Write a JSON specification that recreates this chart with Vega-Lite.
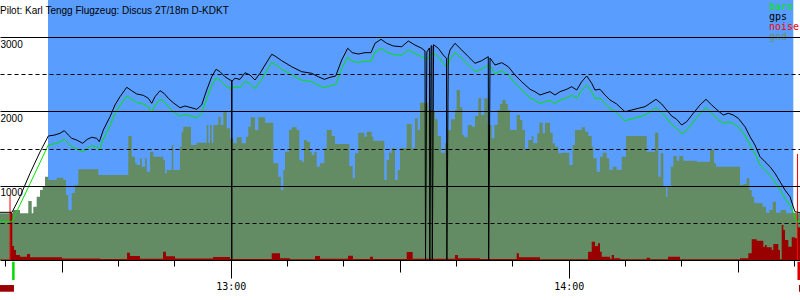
{
"$schema":"https://vega.github.io/schema/vega-lite/v6.json",
"width":800,"height":260,
"autosize":{"type":"none"},
"padding":{"left":0,"top":0,"right":0,"bottom":40},
"background":"white",
"config":{"view":{"stroke":null}},
"title":{"text":"Pilot: Karl Tengg Flugzeug: Discus 2T/18m D-KDKT","anchor":"start","frame":"group","font":"Liberation Sans","fontSize":10,"fontWeight":"normal","color":"black","offset":-10,"baseline":"alphabetic","dy":14},
"datasets":{
"gnd":[{"m":19.05,"alt":629},{"m":21.36,"alt":673},{"m":22.60,"alt":629},{"m":24.07,"alt":794},{"m":24.68,"alt":629},{"m":24.96,"alt":717},{"m":25.56,"alt":852},{"m":26.15,"alt":942},{"m":26.63,"alt":987},{"m":27.04,"alt":1121},{"m":27.62,"alt":1077},{"m":29.11,"alt":1108},{"m":30.29,"alt":1077},{"m":30.77,"alt":875},{"m":31.17,"alt":673},{"m":31.78,"alt":902},{"m":32.36,"alt":1010},{"m":32.95,"alt":1221},{"m":36.50,"alt":1144},{"m":41.82,"alt":1669},{"m":42.43,"alt":1391},{"m":43.01,"alt":1302},{"m":43.31,"alt":1279},{"m":43.90,"alt":1369},{"m":44.20,"alt":1256},{"m":44.79,"alt":1369},{"m":45.09,"alt":1189},{"m":45.68,"alt":1458},{"m":46.26,"alt":1391},{"m":48.04,"alt":1346},{"m":48.34,"alt":1167},{"m":48.64,"alt":1211},{"m":49.53,"alt":1548},{"m":49.81,"alt":1211},{"m":51.00,"alt":1525},{"m":51.30,"alt":1727},{"m":51.59,"alt":1794},{"m":52.95,"alt":1548},{"m":53.96,"alt":1579},{"m":55.74,"alt":1817},{"m":56.02,"alt":1579},{"m":56.33,"alt":1817},{"m":56.63,"alt":1579},{"m":56.91,"alt":1817},{"m":57.80,"alt":1929},{"m":58.22,"alt":1817},{"m":58.69,"alt":1996},{"m":59.29,"alt":1773},{"m":59.88,"alt":1638},{"m":60.46,"alt":1571},{"m":61.06,"alt":1652},{"m":61.95,"alt":1571},{"m":62.72,"alt":1660},{"m":63.12,"alt":1794},{"m":63.55,"alt":1921},{"m":64.31,"alt":1750},{"m":64.90,"alt":1921},{"m":66.09,"alt":1848},{"m":67.56,"alt":1302},{"m":68.45,"alt":1121},{"m":68.93,"alt":942},{"m":69.34,"alt":1211},{"m":69.64,"alt":1458},{"m":70.35,"alt":1750},{"m":70.83,"alt":1786},{"m":71.71,"alt":1750},{"m":72.18,"alt":1346},{"m":72.60,"alt":1323},{"m":73.01,"alt":1615},{"m":73.49,"alt":1593},{"m":74.08,"alt":1458},{"m":74.38,"alt":1413},{"m":74.84,"alt":1458},{"m":75.26,"alt":1256},{"m":75.85,"alt":1302},{"m":76.61,"alt":1504},{"m":77.04,"alt":1750},{"m":77.93,"alt":1669},{"m":78.51,"alt":1562},{"m":81.05,"alt":1265},{"m":81.65,"alt":1100},{"m":82.06,"alt":1436},{"m":82.65,"alt":1714},{"m":83.71,"alt":1660},{"m":84.14,"alt":1727},{"m":85.03,"alt":1660},{"m":85.31,"alt":1606},{"m":87.26,"alt":1077},{"m":87.69,"alt":1346},{"m":88.10,"alt":1444},{"m":88.58,"alt":1504},{"m":89.16,"alt":1077},{"m":89.64,"alt":1211},{"m":90.05,"alt":1504},{"m":91.24,"alt":1831},{"m":92.13,"alt":1504},{"m":92.71,"alt":1907},{"m":93.19,"alt":1750},{"m":93.60,"alt":2117},{"m":95.07,"alt":2019},{"m":95.96,"alt":1996},{"m":96.26,"alt":1894},{"m":96.74,"alt":1669},{"m":97.33,"alt":1444},{"m":98.04,"alt":1571},{"m":98.52,"alt":1750},{"m":99.10,"alt":1894},{"m":99.81,"alt":2019},{"m":100.11,"alt":2288},{"m":100.70,"alt":2055},{"m":101.11,"alt":1683},{"m":101.46,"alt":1652},{"m":102.07,"alt":1817},{"m":102.78,"alt":1794},{"m":103.36,"alt":1938},{"m":103.95,"alt":2177},{"m":104.43,"alt":1952},{"m":105.01,"alt":2177},{"m":105.62,"alt":1817},{"m":106.33,"alt":1638},{"m":106.79,"alt":1817},{"m":107.39,"alt":2019},{"m":107.80,"alt":2100},{"m":108.21,"alt":2154},{"m":108.81,"alt":2100},{"m":109.17,"alt":2019},{"m":109.58,"alt":1750},{"m":110.76,"alt":1952},{"m":111.35,"alt":1884},{"m":111.76,"alt":1750},{"m":112.24,"alt":1481},{"m":112.82,"alt":1615},{"m":113.43,"alt":1669},{"m":113.71,"alt":1571},{"m":114.42,"alt":1705},{"m":114.78,"alt":1848},{"m":115.38,"alt":1705},{"m":115.79,"alt":1848},{"m":116.68,"alt":1714},{"m":117.15,"alt":1571},{"m":117.56,"alt":1525},{"m":118.15,"alt":1436},{"m":118.75,"alt":1444},{"m":120.10,"alt":1279},{"m":120.70,"alt":1548},{"m":121.11,"alt":1750},{"m":122.30,"alt":1786},{"m":122.89,"alt":1727},{"m":123.47,"alt":1669},{"m":124.08,"alt":1525},{"m":124.36,"alt":1369},{"m":124.96,"alt":1189},{"m":125.55,"alt":1391},{"m":126.03,"alt":1444},{"m":126.74,"alt":1369},{"m":127.20,"alt":1211},{"m":127.80,"alt":1256},{"m":128.51,"alt":1211},{"m":129.40,"alt":1391},{"m":130.17,"alt":1669},{"m":133.84,"alt":1458},{"m":135.31,"alt":1714},{"m":135.90,"alt":1121},{"m":136.32,"alt":1436},{"m":136.79,"alt":996},{"m":137.27,"alt":852},{"m":137.50,"alt":996},{"m":138.10,"alt":1256},{"m":138.56,"alt":1400},{"m":139.16,"alt":1337},{"m":139.63,"alt":1400},{"m":140.34,"alt":1337},{"m":142.71,"alt":1323},{"m":145.08,"alt":1481},{"m":145.79,"alt":1302},{"m":146.14,"alt":1256},{"m":150.40,"alt":1010},{"m":150.99,"alt":1023},{"m":151.59,"alt":1100},{"m":152.05,"alt":942},{"m":152.48,"alt":852},{"m":152.89,"alt":771},{"m":153.36,"alt":763},{"m":154.43,"alt":717},{"m":155.02,"alt":637},{"m":155.60,"alt":673},{"m":156.20,"alt":785},{"m":156.79,"alt":637},{"m":157.62,"alt":673},{"m":158.57,"alt":629},{"m":159.58,"alt":637},{"m":160.46,"alt":629},{"m":161.05,"alt":629}],
"noise":[{"m":19.05,"alt":8},{"m":20.83,"alt":637},{"m":21.23,"alt":188},{"m":21.54,"alt":135},{"m":21.89,"alt":67},{"m":22.60,"alt":44},{"m":23.84,"alt":81},{"m":24.38,"alt":36},{"m":30.06,"alt":20},{"m":36.80,"alt":15},{"m":41.59,"alt":98},{"m":42.13,"alt":54},{"m":43.90,"alt":18},{"m":47.98,"alt":112},{"m":48.52,"alt":50},{"m":50.11,"alt":20},{"m":56.86,"alt":40},{"m":59.88,"alt":12},{"m":67.28,"alt":90},{"m":68.75,"alt":22},{"m":70.53,"alt":10},{"m":74.96,"alt":54},{"m":75.85,"alt":18},{"m":80.82,"alt":58},{"m":81.71,"alt":15},{"m":84.73,"alt":44},{"m":85.26,"alt":13},{"m":91.24,"alt":108},{"m":92.30,"alt":18},{"m":99.81,"alt":67},{"m":100.35,"alt":22},{"m":104.25,"alt":14},{"m":110.76,"alt":90},{"m":111.17,"alt":36},{"m":114.90,"alt":10},{"m":123.42,"alt":112},{"m":124.08,"alt":246},{"m":124.66,"alt":188},{"m":125.20,"alt":224},{"m":125.55,"alt":112},{"m":125.85,"alt":44},{"m":127.33,"alt":18},{"m":127.63,"alt":67},{"m":128.04,"alt":22},{"m":129.10,"alt":10},{"m":133.84,"alt":31},{"m":134.43,"alt":10},{"m":137.62,"alt":44},{"m":139.75,"alt":10},{"m":150.40,"alt":22},{"m":151.87,"alt":90},{"m":152.48,"alt":278},{"m":153.36,"alt":260},{"m":154.54,"alt":179},{"m":154.84,"alt":202},{"m":155.14,"alt":170},{"m":156.03,"alt":135},{"m":156.31,"alt":215},{"m":157.20,"alt":135},{"m":157.50,"alt":10},{"m":157.80,"alt":471},{"m":158.09,"alt":404},{"m":158.39,"alt":269},{"m":158.97,"alt":179},{"m":159.58,"alt":306},{"m":160.16,"alt":292},{"m":160.57,"alt":440},{"m":161.05,"alt":440}],
"track":[{"s":"baro","m":19.05,"alt":516},{"s":"baro","m":21.18,"alt":516},{"s":"baro","m":22.60,"alt":743},{"s":"baro","m":24.38,"alt":1028},{"s":"baro","m":26.15,"alt":1312},{"s":"baro","m":27.62,"alt":1548},{"s":"baro","m":28.81,"alt":1565},{"s":"baro","m":29.70,"alt":1590},{"s":"baro","m":30.46,"alt":1625},{"s":"baro","m":31.17,"alt":1570},{"s":"baro","m":31.78,"alt":1522},{"s":"baro","m":32.66,"alt":1500},{"s":"baro","m":33.73,"alt":1455},{"s":"baro","m":34.55,"alt":1505},{"s":"baro","m":35.33,"alt":1538},{"s":"baro","m":36.21,"alt":1525},{"s":"baro","m":36.68,"alt":1478},{"s":"baro","m":37.39,"alt":1630},{"s":"baro","m":38.58,"alt":1810},{"s":"baro","m":39.46,"alt":1970},{"s":"baro","m":40.35,"alt":2080},{"s":"baro","m":41.54,"alt":2205},{"s":"baro","m":42.43,"alt":2165},{"s":"baro","m":43.31,"alt":2120},{"s":"baro","m":44.49,"alt":2100},{"s":"baro","m":45.37,"alt":2063},{"s":"baro","m":45.98,"alt":1995},{"s":"baro","m":46.56,"alt":2080},{"s":"baro","m":47.45,"alt":2165},{"s":"baro","m":48.16,"alt":2130},{"s":"baro","m":48.92,"alt":2062},{"s":"baro","m":49.81,"alt":2003},{"s":"baro","m":51.00,"alt":1935},{"s":"baro","m":51.89,"alt":1958},{"s":"baro","m":52.78,"alt":1940},{"s":"baro","m":53.96,"alt":1915},{"s":"baro","m":54.85,"alt":1972},{"s":"baro","m":55.74,"alt":2170},{"s":"baro","m":56.63,"alt":2350},{"s":"baro","m":57.39,"alt":2452},{"s":"baro","m":58.10,"alt":2420},{"s":"baro","m":58.99,"alt":2352},{"s":"baro","m":59.88,"alt":2308},{"s":"baro","m":60.76,"alt":2330},{"s":"baro","m":61.65,"alt":2318},{"s":"baro","m":62.54,"alt":2405},{"s":"baro","m":63.43,"alt":2375},{"s":"baro","m":64.31,"alt":2308},{"s":"baro","m":65.20,"alt":2398},{"s":"baro","m":66.09,"alt":2510},{"s":"baro","m":67.28,"alt":2660},{"s":"baro","m":67.86,"alt":2635},{"s":"baro","m":69.05,"alt":2570},{"s":"baro","m":70.83,"alt":2490},{"s":"baro","m":72.60,"alt":2420},{"s":"baro","m":74.38,"alt":2400},{"s":"baro","m":75.55,"alt":2352},{"s":"baro","m":76.61,"alt":2318},{"s":"baro","m":77.63,"alt":2345},{"s":"baro","m":78.64,"alt":2362},{"s":"baro","m":79.70,"alt":2578},{"s":"baro","m":80.77,"alt":2730},{"s":"baro","m":81.58,"alt":2676},{"s":"baro","m":82.65,"alt":2660},{"s":"baro","m":83.84,"alt":2676},{"s":"baro","m":84.90,"alt":2676},{"s":"baro","m":85.61,"alt":2800},{"s":"baro","m":86.68,"alt":2852},{"s":"baro","m":87.69,"alt":2800},{"s":"baro","m":88.86,"alt":2766},{"s":"baro","m":90.35,"alt":2756},{"s":"baro","m":91.53,"alt":2832},{"s":"baro","m":92.71,"alt":2780},{"s":"baro","m":93.90,"alt":2736},{"s":"baro","m":94.49,"alt":2715},{"s":"baro","m":94.81,"alt":2700},{"s":"baro","m":95.27,"alt":2740},{"s":"baro","m":95.57,"alt":2765},{"s":"baro","m":95.71,"alt":2770},{"s":"baro","m":96.01,"alt":2782},{"s":"baro","m":96.85,"alt":2735},{"s":"baro","m":97.74,"alt":2650},{"s":"baro","m":98.30,"alt":2605},{"s":"baro","m":98.61,"alt":2620},{"s":"baro","m":98.93,"alt":2700},{"s":"baro","m":99.81,"alt":2795},{"s":"baro","m":101.00,"alt":2715},{"s":"baro","m":102.18,"alt":2625},{"s":"baro","m":103.36,"alt":2535},{"s":"baro","m":104.55,"alt":2570},{"s":"baro","m":105.72,"alt":2625},{"s":"baro","m":106.03,"alt":2610},{"s":"baro","m":106.91,"alt":2513},{"s":"baro","m":108.10,"alt":2545},{"s":"baro","m":109.28,"alt":2490},{"s":"baro","m":110.46,"alt":2380},{"s":"baro","m":111.65,"alt":2290},{"s":"baro","m":113.13,"alt":2180},{"s":"baro","m":114.01,"alt":2150},{"s":"baro","m":114.90,"alt":2105},{"s":"baro","m":115.79,"alt":2130},{"s":"baro","m":116.68,"alt":2150},{"s":"baro","m":117.56,"alt":2108},{"s":"baro","m":118.45,"alt":2150},{"s":"baro","m":119.64,"alt":2185},{"s":"baro","m":120.53,"alt":2218},{"s":"baro","m":121.42,"alt":2175},{"s":"baro","m":122.30,"alt":2285},{"s":"baro","m":123.19,"alt":2356},{"s":"baro","m":124.08,"alt":2265},{"s":"baro","m":124.66,"alt":2175},{"s":"baro","m":125.55,"alt":2180},{"s":"baro","m":126.44,"alt":2105},{"s":"baro","m":127.33,"alt":2040},{"s":"baro","m":128.51,"alt":1985},{"s":"baro","m":129.99,"alt":1875},{"s":"baro","m":131.17,"alt":1900},{"s":"baro","m":132.35,"alt":1925},{"s":"baro","m":133.54,"alt":1950},{"s":"baro","m":134.43,"alt":1995},{"s":"baro","m":135.49,"alt":2050},{"s":"baro","m":136.50,"alt":1985},{"s":"baro","m":137.39,"alt":1905},{"s":"baro","m":138.28,"alt":1825},{"s":"baro","m":139.16,"alt":1775},{"s":"baro","m":140.05,"alt":1700},{"s":"baro","m":140.94,"alt":1745},{"s":"baro","m":142.11,"alt":1860},{"s":"baro","m":143.30,"alt":1970},{"s":"baro","m":144.36,"alt":2050},{"s":"baro","m":145.37,"alt":1975},{"s":"baro","m":146.55,"alt":1890},{"s":"baro","m":147.44,"alt":1840},{"s":"baro","m":148.32,"alt":1860},{"s":"baro","m":149.21,"alt":1840},{"s":"baro","m":150.10,"alt":1790},{"s":"baro","m":151.29,"alt":1680},{"s":"baro","m":152.18,"alt":1545},{"s":"baro","m":153.06,"alt":1435},{"s":"baro","m":153.95,"alt":1280},{"s":"baro","m":154.84,"alt":1210},{"s":"baro","m":155.73,"alt":1140},{"s":"baro","m":156.61,"alt":1055},{"s":"baro","m":157.50,"alt":940},{"s":"baro","m":158.39,"alt":830},{"s":"baro","m":159.28,"alt":735},{"s":"baro","m":159.86,"alt":640},{"s":"baro","m":160.16,"alt":561},{"s":"baro","m":160.46,"alt":516},{"s":"baro","m":161.05,"alt":516},
{"s":"gps","m":19.05,"alt":642},{"s":"gps","m":21.18,"alt":642},{"s":"gps","m":22.60,"alt":852},{"s":"gps","m":24.38,"alt":1167},{"s":"gps","m":26.15,"alt":1454},{"s":"gps","m":27.62,"alt":1669},{"s":"gps","m":28.81,"alt":1683},{"s":"gps","m":29.70,"alt":1706},{"s":"gps","m":30.46,"alt":1741},{"s":"gps","m":31.17,"alt":1683},{"s":"gps","m":31.78,"alt":1638},{"s":"gps","m":32.66,"alt":1615},{"s":"gps","m":33.73,"alt":1571},{"s":"gps","m":34.55,"alt":1625},{"s":"gps","m":35.33,"alt":1652},{"s":"gps","m":36.21,"alt":1638},{"s":"gps","m":36.68,"alt":1592},{"s":"gps","m":37.39,"alt":1750},{"s":"gps","m":38.58,"alt":1929},{"s":"gps","m":39.46,"alt":2087},{"s":"gps","m":40.35,"alt":2198},{"s":"gps","m":41.54,"alt":2325},{"s":"gps","m":42.43,"alt":2279},{"s":"gps","m":43.31,"alt":2235},{"s":"gps","m":44.49,"alt":2217},{"s":"gps","m":45.37,"alt":2177},{"s":"gps","m":45.98,"alt":2109},{"s":"gps","m":46.56,"alt":2198},{"s":"gps","m":47.45,"alt":2279},{"s":"gps","m":48.16,"alt":2244},{"s":"gps","m":48.92,"alt":2177},{"s":"gps","m":49.81,"alt":2117},{"s":"gps","m":51.00,"alt":2050},{"s":"gps","m":51.89,"alt":2073},{"s":"gps","m":52.78,"alt":2055},{"s":"gps","m":53.96,"alt":2029},{"s":"gps","m":54.85,"alt":2087},{"s":"gps","m":55.74,"alt":2288},{"s":"gps","m":56.63,"alt":2467},{"s":"gps","m":57.39,"alt":2567},{"s":"gps","m":58.10,"alt":2535},{"s":"gps","m":58.99,"alt":2467},{"s":"gps","m":59.88,"alt":2423},{"s":"gps","m":60.16,"alt":2416},{"s":"gps","m":60.19,"alt":0},{"s":"gps","m":60.23,"alt":2410},{"s":"gps","m":60.76,"alt":2446},{"s":"gps","m":61.65,"alt":2432},{"s":"gps","m":62.54,"alt":2521},{"s":"gps","m":63.43,"alt":2490},{"s":"gps","m":64.31,"alt":2423},{"s":"gps","m":65.20,"alt":2513},{"s":"gps","m":66.09,"alt":2625},{"s":"gps","m":67.28,"alt":2769},{"s":"gps","m":67.86,"alt":2746},{"s":"gps","m":69.05,"alt":2683},{"s":"gps","m":70.83,"alt":2602},{"s":"gps","m":72.60,"alt":2535},{"s":"gps","m":74.38,"alt":2513},{"s":"gps","m":75.55,"alt":2467},{"s":"gps","m":76.61,"alt":2432},{"s":"gps","m":77.63,"alt":2459},{"s":"gps","m":78.64,"alt":2477},{"s":"gps","m":79.70,"alt":2692},{"s":"gps","m":80.77,"alt":2850},{"s":"gps","m":81.58,"alt":2791},{"s":"gps","m":82.65,"alt":2773},{"s":"gps","m":83.84,"alt":2791},{"s":"gps","m":84.90,"alt":2791},{"s":"gps","m":85.61,"alt":2917},{"s":"gps","m":86.68,"alt":2971},{"s":"gps","m":87.69,"alt":2917},{"s":"gps","m":88.86,"alt":2881},{"s":"gps","m":90.35,"alt":2871},{"s":"gps","m":91.53,"alt":2948},{"s":"gps","m":92.71,"alt":2894},{"s":"gps","m":93.90,"alt":2850},{"s":"gps","m":94.49,"alt":2813},{"s":"gps","m":94.58,"alt":0},{"s":"gps","m":94.70,"alt":1430},{"s":"gps","m":94.81,"alt":2800},{"s":"gps","m":95.27,"alt":2854},{"s":"gps","m":95.34,"alt":0},{"s":"gps","m":95.46,"alt":1460},{"s":"gps","m":95.57,"alt":2881},{"s":"gps","m":95.71,"alt":2887},{"s":"gps","m":95.78,"alt":0},{"s":"gps","m":95.91,"alt":1444},{"s":"gps","m":96.01,"alt":2898},{"s":"gps","m":96.85,"alt":2850},{"s":"gps","m":97.74,"alt":2759},{"s":"gps","m":98.30,"alt":2715},{"s":"gps","m":98.37,"alt":0},{"s":"gps","m":98.50,"alt":1356},{"s":"gps","m":98.61,"alt":2733},{"s":"gps","m":98.93,"alt":2827},{"s":"gps","m":99.81,"alt":2917},{"s":"gps","m":101.00,"alt":2827},{"s":"gps","m":102.18,"alt":2737},{"s":"gps","m":103.36,"alt":2648},{"s":"gps","m":104.55,"alt":2683},{"s":"gps","m":105.72,"alt":2737},{"s":"gps","m":105.79,"alt":0},{"s":"gps","m":105.92,"alt":1373},{"s":"gps","m":106.03,"alt":2719},{"s":"gps","m":106.91,"alt":2625},{"s":"gps","m":108.10,"alt":2656},{"s":"gps","m":109.28,"alt":2602},{"s":"gps","m":110.46,"alt":2490},{"s":"gps","m":111.65,"alt":2400},{"s":"gps","m":113.13,"alt":2298},{"s":"gps","m":114.01,"alt":2266},{"s":"gps","m":114.90,"alt":2221},{"s":"gps","m":115.79,"alt":2244},{"s":"gps","m":116.68,"alt":2266},{"s":"gps","m":117.56,"alt":2221},{"s":"gps","m":118.45,"alt":2266},{"s":"gps","m":119.64,"alt":2298},{"s":"gps","m":120.53,"alt":2333},{"s":"gps","m":121.42,"alt":2288},{"s":"gps","m":122.30,"alt":2400},{"s":"gps","m":123.19,"alt":2477},{"s":"gps","m":124.08,"alt":2379},{"s":"gps","m":124.66,"alt":2288},{"s":"gps","m":125.55,"alt":2298},{"s":"gps","m":126.44,"alt":2221},{"s":"gps","m":127.33,"alt":2154},{"s":"gps","m":128.51,"alt":2100},{"s":"gps","m":129.99,"alt":1996},{"s":"gps","m":131.17,"alt":2019},{"s":"gps","m":132.35,"alt":2042},{"s":"gps","m":133.54,"alt":2064},{"s":"gps","m":134.43,"alt":2109},{"s":"gps","m":135.49,"alt":2163},{"s":"gps","m":136.50,"alt":2100},{"s":"gps","m":137.39,"alt":2019},{"s":"gps","m":138.28,"alt":1938},{"s":"gps","m":139.16,"alt":1894},{"s":"gps","m":140.05,"alt":1817},{"s":"gps","m":140.94,"alt":1862},{"s":"gps","m":142.11,"alt":1975},{"s":"gps","m":143.30,"alt":2087},{"s":"gps","m":144.36,"alt":2163},{"s":"gps","m":145.37,"alt":2087},{"s":"gps","m":146.55,"alt":2006},{"s":"gps","m":147.44,"alt":1952},{"s":"gps","m":148.32,"alt":1975},{"s":"gps","m":149.21,"alt":1952},{"s":"gps","m":150.10,"alt":1907},{"s":"gps","m":151.29,"alt":1794},{"s":"gps","m":152.18,"alt":1660},{"s":"gps","m":153.06,"alt":1548},{"s":"gps","m":153.95,"alt":1391},{"s":"gps","m":154.84,"alt":1323},{"s":"gps","m":155.73,"alt":1256},{"s":"gps","m":156.61,"alt":1167},{"s":"gps","m":157.50,"alt":1054},{"s":"gps","m":158.39,"alt":942},{"s":"gps","m":159.28,"alt":852},{"s":"gps","m":159.86,"alt":717},{"s":"gps","m":160.16,"alt":650},{"s":"gps","m":161.05,"alt":637}]
},
"layer":[
{"data":{"values":[{"m1":27.57,"m2":159.86}]},
 "mark":{"type":"rect","fill":"#599eff"},
 "encoding":{
  "x":{"field":"m1","type":"quantitative","scale":{"domain":[19.05,161.05],"nice":false,"zero":false},
   "axis":{"title":null,"values":[20,25,30,35,40,45,50,55,60,65,70,75,80,85,90,95,100,105,110,115,120,125,130,135,140,145,150,155,160],
    "tickSize":{"condition":[{"test":"datum.value % 60 === 0","value":18},{"test":"datum.value % 30 === 0","value":12}],"value":6},
    "tickColor":"black","tickWidth":1,"domainColor":"black","domainWidth":1,"grid":false,
    "labelExpr":"datum.value % 60 === 0 ? (12 + datum.value/60) + ':00' : ''",
    "labelFont":"DejaVu Sans Mono","labelFontSize":10,"labelColor":"black","labelPadding":3,"labelFlush":false,"labelOverlap":false}},
  "x2":{"field":"m2"},
  "y":{"datum":0,"type":"quantitative","scale":{"domain":[0,3500],"nice":false,"zero":false},
   "axis":{"title":null,"values":[500,1000,1500,2000,2500,3000],"domain":false,"ticks":false,"grid":true,"gridColor":"black","gridOpacity":1,"gridWidth":1,
    "gridDash":{"condition":{"test":"datum.value % 1000 !== 0","value":[4,3]},"value":[]},
    "format":"d","labelExpr":"datum.value % 1000 === 0 ? datum.label : ''",
    "labelAlign":"left","labelBaseline":"top","labelPadding":0,"labelOffset":2,"labelFont":"Liberation Sans","labelFontSize":10,"labelColor":"black","labelOverlap":false,"zindex":1}},
  "y2":{"datum":3500}}},
{"data":{"name":"gnd"},"mark":{"type":"area","interpolate":"step-after","fill":"#648c64"},
 "encoding":{"x":{"field":"m","type":"quantitative"},"y":{"field":"alt","type":"quantitative"}}},
{"data":{"name":"noise"},"mark":{"type":"area","interpolate":"step-after","fill":"#990000"},
 "encoding":{"x":{"field":"m","type":"quantitative"},"y":{"field":"alt","type":"quantitative"}}},
{"data":{"values":[{"m":20.83,"alt":875},{"m":160.61,"alt":1427}]},"mark":{"type":"rule","color":"#ff0000","strokeWidth":1},
 "encoding":{"x":{"field":"m","type":"quantitative"},"y":{"field":"alt","type":"quantitative"},"y2":{"datum":0}}},
{"data":{"name":"track"},"mark":{"type":"line","strokeWidth":1},
 "encoding":{"x":{"field":"m","type":"quantitative"},"y":{"field":"alt","type":"quantitative"},
  "color":{"field":"s","type":"nominal","scale":{"domain":["baro","gps","noise","gnd"],"range":["#00e600","#000000","#ff0000","#6b8e6b"]},
   "legend":{"orient":"none","legendX":759,"legendY":2,"title":null,"symbolSize":0,"symbolStrokeWidth":0,"symbolOpacity":0,"labelOffset":0,"labelFont":"DejaVu Sans Mono","labelFontSize":10,"rowPadding":0,"padding":0,"labelLimit":0,
    "encode":{"labels":{"update":{"fill":{"scale":"color","field":"value"}}}}}}}},
{"data":{"values":[{"m1":21.2,"m2":21.65}]},"mark":{"type":"rect","fill":"#00dd00"},
 "encoding":{"x":{"field":"m1","type":"quantitative"},"x2":{"field":"m2"},"y":{"datum":-23},"y2":{"datum":-269}}},
{"data":{"values":[{"m1":160.6,"m2":161.05}]},"mark":{"type":"rect","fill":"#dd0000"},
 "encoding":{"x":{"field":"m1","type":"quantitative"},"x2":{"field":"m2"},"y":{"datum":-23},"y2":{"datum":-269}}},
{"data":{"values":[{"m1":19.05,"m2":21.53},{"m1":160.87,"m2":161.05}]},"mark":{"type":"rect","fill":"#990000"},
 "encoding":{"x":{"field":"m1","type":"quantitative"},"x2":{"field":"m2"},"y":{"datum":-337},"y2":{"datum":-427}}}
]
}
